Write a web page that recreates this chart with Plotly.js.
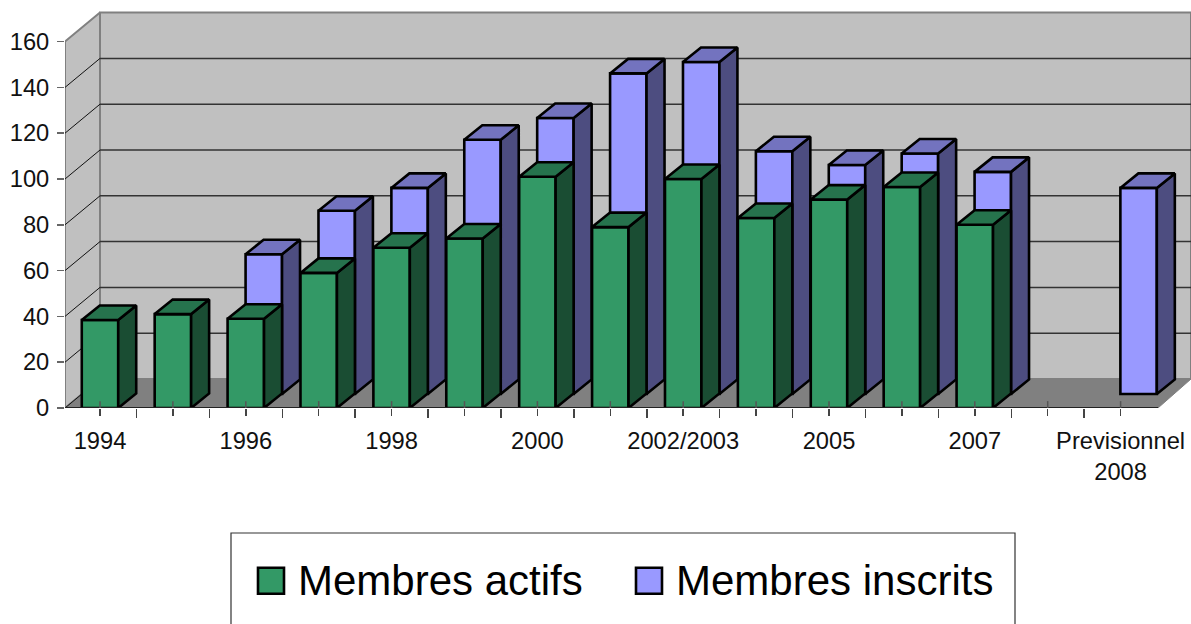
<!DOCTYPE html>
<html><head><meta charset="utf-8">
<script src="https://cdn.plot.ly/plotly-3.0.1.min.js"></script>
<style>html,body{margin:0;padding:0;background:#fff;overflow:hidden}#c{width:1191px;height:624px}</style>
</head><body><div id="c"></div>
<script>
const categories = ['1994','1995','1996','1997','1998','1999','2000','2001','2002/2003','2004','2005','2006','2007','','Previsionnel<br>2008'];
const actifs  = [38.4,41,39,59,70,74,101,79,100,83,91,96.5,80,null,null];
const inscrits = [null,null,61,80,90,111,120.5,140,145,106,100,105,97,null,90];
const yTicks = [0,20,40,60,80,100,120,140,160];

const W=1191,H=624, L=65, T=10, B=408, CAT=72.9, UNIT=2.29;
const DX=18/CAT, DY=14.5/UNIT, HALF=0.25;
const xR=[(L-100)/CAT,(W-100)/CAT], yR=[0,(B-T)/UNIT];
const xEnd=(1158-100)/CAT, xStart=xR[0];
const idx=categories.map((_,i)=>i);
const shiftX=(dpx)=>[xR[0]-dpx/CAT,xR[1]-dpx/CAT];
const shiftY=(dpx)=>[yR[0]-dpx/UNIT,yR[1]-dpx/UNIT];

function faces(vals,kind){
  const xs=[],ys=[];
  vals.forEach((v,i)=>{ if(v===null) return;
    if(kind==='side'){xs.push(i+HALF,i+HALF+DX,i+HALF+DX,i+HALF,i+HALF,null);ys.push(0,DY,v+DY,v,0,null);}
    else {xs.push(i-HALF,i+HALF,i+HALF+DX,i-HALF+DX,i-HALF,null);ys.push(v,v,v+DY,v+DY,v,null);}
  });
  return {x:xs,y:ys};
}
const poly=(x,y,fill,line,w)=>({type:'scatter',mode:'lines',x,y,fill:'toself',fillcolor:fill,line:{color:line,width:w},showlegend:false,hoverinfo:'skip',cliponaxis:false});
const BX=35/CAT, BY=29/UNIT;
const traces=[];
const STROKE=2.6;
// walls & floor
const top160=160;
traces.push(poly([xStart,xStart,xStart+BX,xStart+BX,xStart],[0,top160,top160+BY,BY,0],'#c0c0c0','#808080',2));
traces.push(poly([xStart+BX,xStart+BX,xR[1],xR[1],xStart+BX],[BY,top160+BY,top160+BY,BY,BY],'#c0c0c0','#808080',2));
traces.push(poly([xStart,xStart+BX,xR[1],xEnd,xStart],[0,BY,BY,0,0],'#808080','#808080',1));
// gridlines
const gx=[],gy=[],dx=[],dy=[];
yTicks.filter(v=>v>0&&v<160).forEach(v=>{gx.push(xStart+BX,xR[1],null);gy.push(v+BY,v+BY,null);});
yTicks.filter(v=>v<160).forEach(v=>{dx.push(xStart,xStart+BX,null);dy.push(v,v+BY,null);});
const line=(x,y,color,width,xa,ya)=>({type:'scatter',mode:'lines',x,y,line:{color,width},showlegend:false,hoverinfo:'skip',cliponaxis:false,xaxis:xa||'x',yaxis:ya||'y'});
traces.push(line(gx,gy,'#333',1.5));
traces.push(line(dx,dy,'#111',1));
// purple series
const pS=faces(inscrits,'side'),pT=faces(inscrits,'top');
traces.push(Object.assign(poly(pS.x,pS.y,'#4d4d80','#000',STROKE),{xaxis:'x2',yaxis:'y2'}));
traces.push(Object.assign(poly(pT.x,pT.y,'#7373bf','#000',STROKE),{xaxis:'x2',yaxis:'y2'}));
const inscritsBar={type:'bar',name:'Membres inscrits',x:idx,y:inscrits,width:2*HALF,marker:{color:'#9999ff',line:{color:'#000',width:STROKE}},xaxis:'x2',yaxis:'y2',cliponaxis:false,hoverinfo:'y'};
// green series
const gS=faces(actifs,'side'),gT=faces(actifs,'top');
const actifsBar={type:'bar',name:'Membres actifs',x:idx,y:actifs,width:2*HALF,marker:{color:'#339966',line:{color:'#000',width:STROKE}},xaxis:'x3',yaxis:'y3',cliponaxis:false,hoverinfo:'y'};
traces.push(actifsBar,inscritsBar);
traces.push(Object.assign(poly(gS.x,gS.y,'#1a4d33','#000',STROKE),{xaxis:'x3',yaxis:'y3'}));
traces.push(Object.assign(poly(gT.x,gT.y,'#26734d','#000',STROKE),{xaxis:'x3',yaxis:'y3'}));
// axis baseline and inner tick stubs, on top of bars
traces.push(line([xStart,xEnd],[0,0],'#222',1.8,'x3','y3'));
const sx=[],sy=[]; idx.forEach(i=>{sx.push(i,i,null);sy.push(0,3,null);});
traces.push(line(sx,sy,'#555',1.5,'x3','y3'));

const tickFont={family:'"Liberation Sans",Arial,sans-serif',size:23.7,color:'#111'};
const hidden=(range,anchor,over)=>({range,visible:false,overlaying:over,anchor,fixedrange:true});
const layout={
  width:W,height:H,margin:{l:L,r:0,t:T,b:H-B,pad:0},
  paper_bgcolor:'#fff',plot_bgcolor:'rgba(0,0,0,0)',bargap:0,barmode:'overlay',
  font:{family:'"Liberation Sans",Arial,sans-serif',color:'#111'},
  xaxis:{range:xR,tickmode:'array',tickvals:idx,ticktext:categories.map((c,i)=>i%2===0?c:''),ticks:'outside',ticklen:7,tickwidth:1.5,tickcolor:'#444',
    showgrid:false,zeroline:false,showline:false,tickfont:tickFont,ticklabelstandoff:5,tickangle:0,
    minor:{tickmode:'array',tickvals:idx.map(i=>i-0.5),ticks:'outside',ticklen:9,tickwidth:1.5,tickcolor:'#444',showgrid:false},fixedrange:true},
  yaxis:{range:yR,tickmode:'array',tickvals:yTicks,ticks:'outside',ticklen:7,tickwidth:1.5,tickcolor:'#666',showgrid:false,zeroline:false,showline:false,tickfont:tickFont,ticklabelstandoff:3,fixedrange:true},
  xaxis2:hidden(shiftX(18),'y2','x'),yaxis2:hidden(shiftY(14),'x2','y'),
  xaxis3:hidden(xR,'y3','x'),yaxis3:hidden(yR,'x3','y'),
  showlegend:true,
  legend:{orientation:'h',xref:'container',yref:'container',x:244/W,xanchor:'left',y:1-545/H,yanchor:'top',
    font:{family:'"Liberation Sans",Arial,sans-serif',size:42,color:'#000'},bgcolor:'rgba(0,0,0,0)',borderwidth:0,
    itemwidth:44,entrywidth:319,entrywidthmode:'pixels',traceorder:'normal',itemclick:false,itemdoubleclick:false},
  shapes:[{type:'rect',xref:'paper',yref:'paper',layer:'above',
    x0:(231-L)/(W-L),x1:(1015-L)/(W-L),y0:(B-640)/(B-T),y1:(B-533)/(B-T),line:{color:'#333',width:1.2},fillcolor:'rgba(0,0,0,0)'}]
};
Plotly.newPlot('c',traces,layout,{displayModeBar:false,staticPlot:true}).then(()=>{
  document.querySelectorAll('.legend .legendpoints path, .legend .legendbar path').forEach(p=>{
    p.setAttribute('d','M13,15H-13V-11H13Z');
  });
});
</script></body></html>
